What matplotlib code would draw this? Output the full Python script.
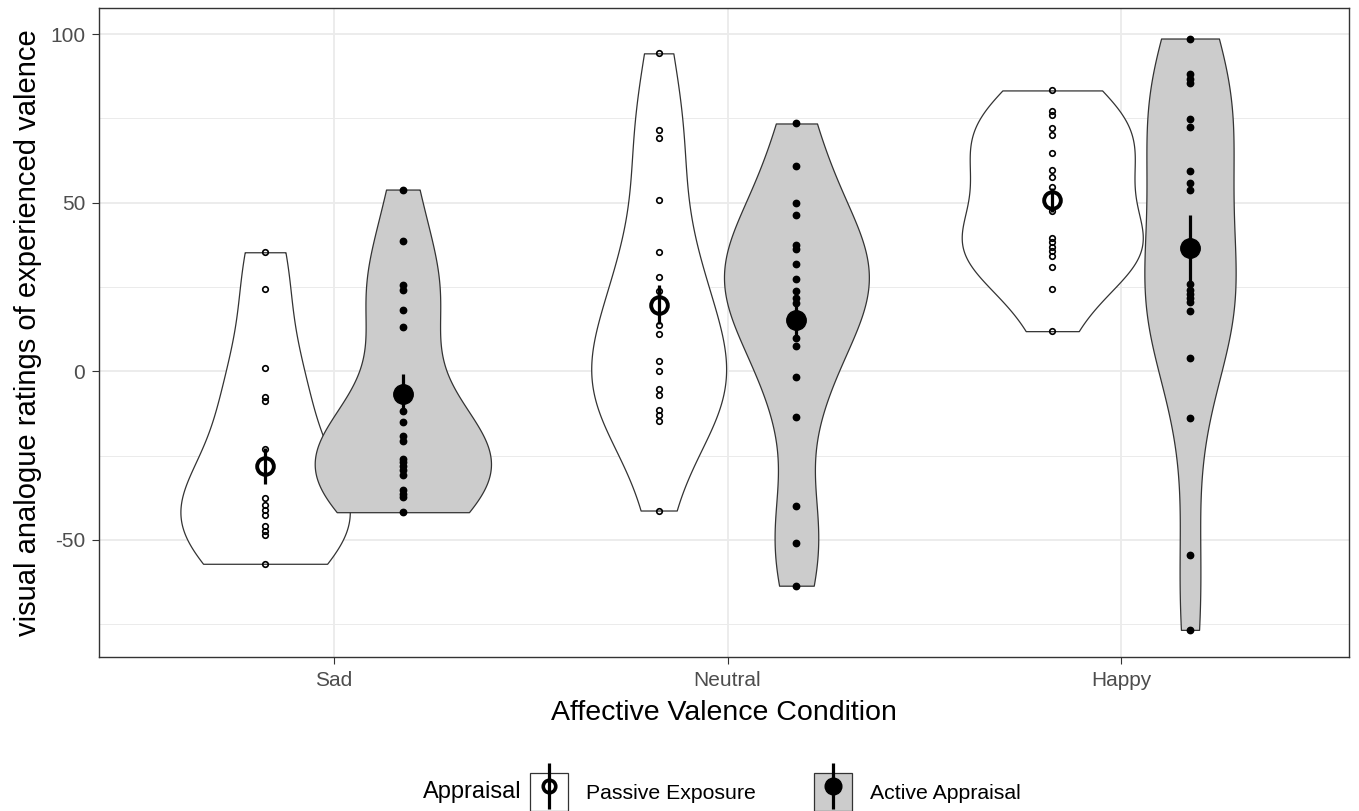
import numpy as np
import matplotlib.pyplot as plt
from matplotlib.patches import Patch
from matplotlib.lines import Line2D

plt.rcParams['font.family'] = ['Liberation Sans', 'DejaVu Sans']
plt.rcParams['axes.unicode_minus'] = False

conditions = ["Sad", "Neutral", "Happy"]
appraisals = ["Passive Exposure", "Active Appraisal"]

# individual ratings
sad_passive = [35.3, 24.4, 1.0, -7.6, -8.9, -23.0, -37.6, -39.8, -41.0, -42.5,
               -46.0, -47.5, -48.7, -57.1]
sad_active = [53.9, 38.6, 25.7, 24.2, 18.3, 13.1, -11.7, -15.0, -19.3, -20.6,
              -25.9, -27.0, -28.2, -29.4, -30.7, -35.1, -36.4, -37.3, -41.8]
neutral_passive = [94.3, 71.7, 69.2, 50.7, 35.4, 28.0, 23.7, 13.6, 11.2, 3.0,
                   0.0, -5.4, -6.9, -11.4, -12.9, -14.8, -41.3]
neutral_active = [73.5, 60.8, 49.9, 46.3, 37.6, 36.3, 31.9, 27.5, 23.7, 21.8,
                  20.3, 9.9, 7.4, -1.8, -13.6, -40.1, -50.9, -63.6]
happy_passive = [83.3, 77.2, 75.9, 72.2, 70.2, 64.6, 59.6, 57.6, 54.7, 47.5,
                 39.6, 38.4, 36.9, 35.6, 34.3, 30.9, 24.5, 11.9]
happy_active = [98.7, 88.3, 86.8, 85.4, 74.7, 72.5, 59.3, 55.9, 53.9, 25.9,
                24.2, 22.9, 21.8, 20.6, 18.0, 4.0, -13.9, -54.6, -76.7]

# means and standard errors as shown
passive_means = [-28.2, 19.8, 50.9]
passive_se = [5.3, 5.8, 3.6]
active_means = [-6.7, 15.3, 36.6]
active_se = [6.0, 6.0, 9.9]

passive = [sad_passive, neutral_passive, happy_passive]
active = [sad_active, neutral_active, happy_active]


def kde(vals, adjust=1.12):
    v = np.asarray(vals, dtype=float)
    n = len(v)
    sd = v.std(ddof=1)
    iqr = np.subtract(*np.percentile(v, [75, 25]))
    bw = 0.9 * min(sd, iqr / 1.34) * n ** -0.2 * adjust
    ys = np.linspace(v.min(), v.max(), 512)
    d = np.exp(-0.5 * ((ys[:, None] - v[None, :]) / bw) ** 2).sum(1) / (n * bw * np.sqrt(2 * np.pi))
    return ys, d


fig = plt.figure(figsize=(13.59, 8.11), dpi=100)
ax = fig.add_axes([99 / 1359, 1 - 657 / 811, 1250 / 1359, 649 / 811])

dodge = 0.175
dens = [kde(v) for v in passive + active]
dmax = max(d.max() for _, d in dens)

for i in range(3):
    for j, (data, fill) in enumerate([(passive[i], 'white'), (active[i], '#CCCCCC')]):
        x = i + 1 + (dodge if j else -dodge)
        ys, d = kde(data)
        w = d / dmax * 0.23
        ax.fill_betweenx(ys, x - w, x + w, facecolor=fill, edgecolor='#333333', lw=0.9, zorder=2)
        if j == 0:
            ax.plot([x] * len(data), data, 'o', ms=4, mfc='none', mec='black', mew=1.2, zorder=3)
            m, se = passive_means[i], passive_se[i]
            ax.plot([x, x], [m - se, m + se], color='black', lw=2.3, zorder=4, solid_capstyle='butt')
            ax.plot([x], [m], 'o', ms=12, mfc='none', mec='black', mew=2.8, zorder=5)
        else:
            ax.plot([x] * len(data), data, 'o', ms=4.6, color='black', zorder=3)
            m, se = active_means[i], active_se[i]
            ax.plot([x, x], [m - se, m + se], color='black', lw=2.3, zorder=4, solid_capstyle='butt')
            ax.plot([x], [m], 'o', ms=14, color='black', zorder=5)

ax.set_xlim(0.403, 3.579)
ax.set_ylim(-84.75, 107.75)
ax.set_xticks([1, 2, 3])
ax.set_xticklabels(conditions)
ax.set_yticks([-50, 0, 50, 100])
ax.set_yticks([-75, -25, 25, 75], minor=True)
ax.set_xticks([1.5, 2.5], minor=True)
ax.grid(which='major', color='#EBEBEB', lw=1.3)
ax.grid(which='minor', axis='y', color='#EBEBEB', lw=0.7)
ax.set_axisbelow(True)
ax.tick_params(which='minor', length=0)
ax.tick_params(which='major', length=5, color='#333333', labelsize=15, labelcolor='#4D4D4D', pad=5)
for s in ax.spines.values():
    s.set_color('#333333')
    s.set_linewidth(1.0)

ax.set_xlabel('Affective Valence Condition', fontsize=20.5, labelpad=7)
ax.set_ylabel('visual analogue ratings of experienced valence', fontsize=21, labelpad=6)

handles = [
    (Patch(facecolor='white', edgecolor='#333333', lw=0.9),
     Line2D([], [], marker='|', ms=33, mew=2.3, color='black', ls='none'),
     Line2D([], [], marker='o', ms=9, mfc='none', mec='black', mew=2.6, ls='none')),
    (Patch(facecolor='#CCCCCC', edgecolor='#333333', lw=0.9),
     Line2D([], [], marker='|', ms=33, mew=2.3, color='black', ls='none'),
     Line2D([], [], marker='o', ms=12, color='black', ls='none')),
]
fig.legend(handles, appraisals, loc='center left', ncol=2,
           bbox_to_anchor=(530 / 1359, 1 - 792 / 811), frameon=False,
           fontsize=15.3, handlelength=1.8, handleheight=2.35,
           handletextpad=0.85, columnspacing=2.7, borderpad=0, borderaxespad=0)
fig.text(423 / 1359, 1 - 792 / 811, 'Appraisal', fontsize=17, va='center', ha='left')

fig.savefig('out.png', dpi=100)
